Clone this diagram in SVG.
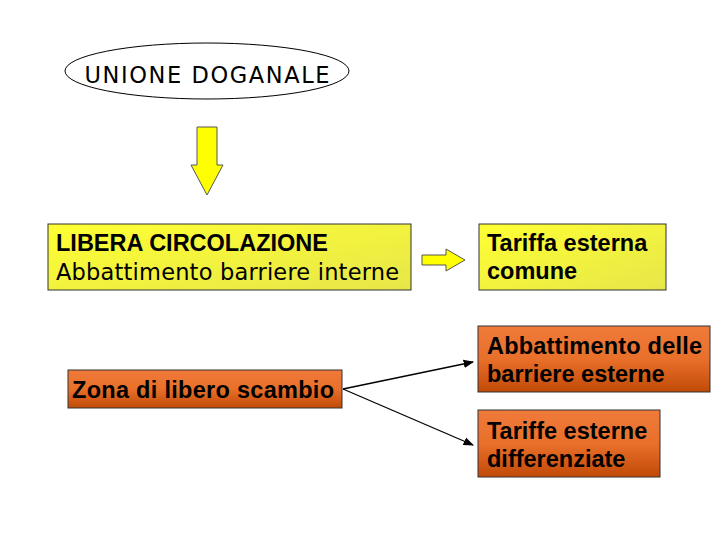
<svg xmlns="http://www.w3.org/2000/svg" width="720" height="540" viewBox="0 0 720 540">
<defs>
<linearGradient id="yg" x1="0" y1="0" x2="1" y2="1"><stop offset="0" stop-color="#ffff33"/><stop offset="1" stop-color="#e6e64a"/></linearGradient>
<linearGradient id="og" x1="0" y1="0" x2="0" y2="1"><stop offset="0" stop-color="#f07a3a"/><stop offset="0.5" stop-color="#e8702a"/><stop offset="1" stop-color="#c24a08"/></linearGradient>
<marker id="ah" viewBox="0 0 10 10" refX="9" refY="5" markerWidth="8" markerHeight="8" orient="auto"><path d="M0,1 L10,5 L0,9 z" fill="#000"/></marker>
<style>
.t{font-family:"Liberation Sans",Arial,sans-serif;font-weight:bold;font-size:23.5px;fill:#000}
.c{font-family:"DejaVu Sans",sans-serif;font-size:22.5px;fill:#000}
.y{fill:url(#yg);stroke:#333;stroke-width:1}
.o{fill:url(#og);stroke:#333;stroke-width:1}
</style>
</defs>
<rect width="720" height="540" fill="#fff"/>
<g id="unione"><ellipse cx="207" cy="71" rx="142" ry="28" fill="#fff" stroke="#000"/><text class="c" x="207" y="83" text-anchor="middle" font-size="25px" textLength="245">UNIONE DOGANALE</text></g>
<g id="libera"><rect class="y" x="48" y="224" width="363" height="66"/><text class="t" x="56" y="251">LIBERA CIRCOLAZIONE</text><text class="c" x="56" y="280" textLength="343">Abbattimento barriere interne</text></g>
<g id="tariffa"><rect class="y" x="479" y="224" width="187" height="66"/><text class="t" x="487" y="251">Tariffa esterna</text><text class="t" x="487" y="279">comune</text></g>
<g id="zona"><rect class="o" x="68" y="370" width="274" height="38"/><text class="t" x="72" y="398" textLength="262">Zona di libero scambio</text></g>
<g id="abbatt"><rect class="o" x="478" y="326" width="232" height="66"/><text class="t" x="487" y="354" textLength="215">Abbattimento delle</text><text class="t" x="487" y="382">barriere esterne</text></g>
<g id="diff"><rect class="o" x="478" y="410" width="182" height="67"/><text class="t" x="487" y="439">Tariffe esterne</text><text class="t" x="487" y="467">differenziate</text></g>
<g id="connectors">
<path d="M197,127 H217 V165 H223 L207,195 L191,165 H197 Z" fill="#ffff00" stroke="#555"/>
<path d="M422,255 H446 V249 L465,260 L446,271 V265 H422 Z" fill="#ffff00" stroke="#555"/>
<line x1="343" y1="389" x2="473" y2="362" stroke="#000" stroke-width="1.3" marker-end="url(#ah)"/>
<line x1="343" y1="389" x2="473" y2="445" stroke="#000" stroke-width="1.3" marker-end="url(#ah)"/>
</g>
</svg>
